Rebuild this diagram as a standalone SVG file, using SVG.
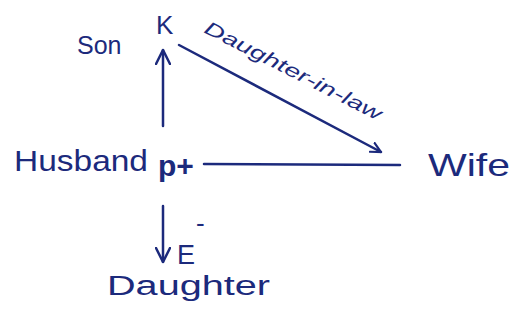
<svg xmlns="http://www.w3.org/2000/svg" width="515" height="320" viewBox="0 0 515 320">
<style>
.t{font-family:"Liberation Sans","DejaVu Sans",sans-serif;fill:#1c2a7c}
.l{stroke:#1c2a7c;stroke-width:2.5;fill:none;stroke-linecap:round}
</style>
<defs>
<marker id="ah" viewBox="0 0 12 12" refX="11" refY="6" markerWidth="12" markerHeight="12" markerUnits="userSpaceOnUse" orient="auto">
<path d="M1,1 L11,6 L1,11" fill="none" stroke="#1c2a7c" stroke-width="2.2" stroke-linecap="round"/>
</marker>
<marker id="ah2" viewBox="0 0 16 16" refX="15" refY="8" markerWidth="16" markerHeight="16" markerUnits="userSpaceOnUse" orient="auto">
<path d="M1,1 L15,8 L1,15" fill="none" stroke="#1c2a7c" stroke-width="2.5" stroke-linecap="round"/>
</marker>
</defs>
<rect width="515" height="320" fill="#ffffff"/>
<g id="connectors">
<line class="l" x1="163" y1="126" x2="163" y2="50" marker-end="url(#ah2)"/>
<line class="l" x1="179" y1="45" x2="381" y2="152" marker-end="url(#ah)"/>
<line class="l" x1="204" y1="164" x2="400" y2="165"/>
<line class="l" x1="163" y1="206" x2="163" y2="262" marker-end="url(#ah2)"/>
<text class="t" font-size="19" font-style="italic" transform="translate(203,32) rotate(27)" textLength="196" lengthAdjust="spacingAndGlyphs">Daughter-in-law</text>
</g>
<g id="node-k">
<text class="t" x="77" y="54" font-size="25">Son</text>
<text class="t" x="156" y="34" font-size="26">K</text>
</g>
<g id="node-p">
<text class="t" x="14" y="171" font-size="29" textLength="134" lengthAdjust="spacingAndGlyphs">Husband</text>
<text class="t" x="158" y="176" font-size="30" font-weight="bold">p+</text>
</g>
<g id="node-wife">
<text class="t" x="428" y="176" font-size="32" textLength="82" lengthAdjust="spacingAndGlyphs">Wife</text>
</g>
<g id="node-e">
<text class="t" x="177" y="264" font-size="27">E</text>
<text class="t" x="196" y="232" font-size="26">-</text>
<text class="t" x="107" y="295" font-size="27" textLength="163" lengthAdjust="spacingAndGlyphs">Daughter</text>
</g>
</svg>
